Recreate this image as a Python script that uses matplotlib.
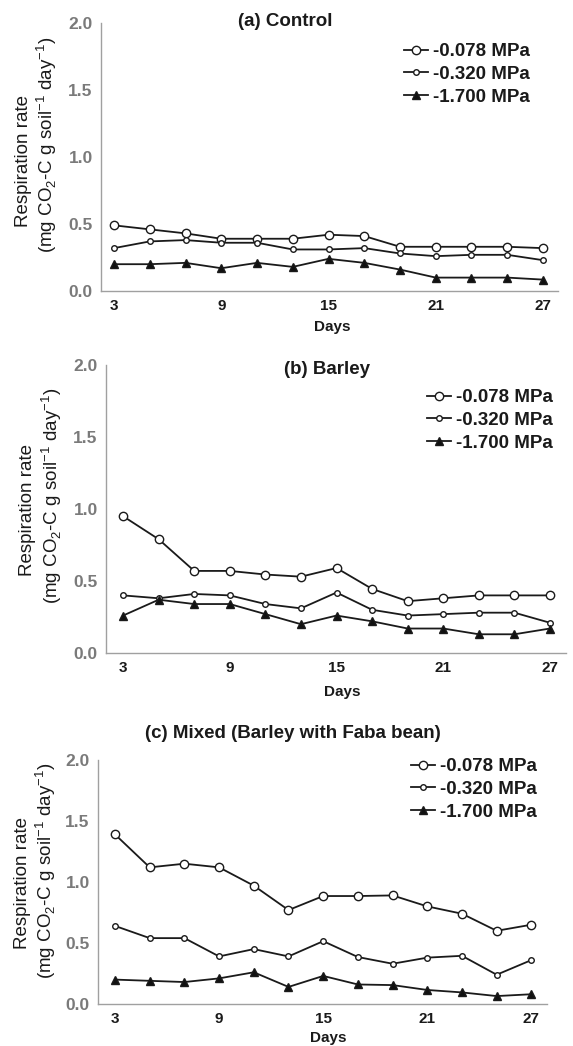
import numpy as np
import matplotlib
matplotlib.use("Agg")
import matplotlib.pyplot as plt

plt.rcParams['font.family'] = ['Liberation Sans', 'DejaVu Sans']
plt.rcParams['mathtext.fontset'] = 'custom'
plt.rcParams['mathtext.rm'] = 'Liberation Sans'

days = [3, 5, 7, 9, 11, 13, 15, 17, 19, 21, 23, 25, 27]
series_labels = ["-0.078 MPa", "-0.320 MPa", "-1.700 MPa"]
panel_titles = ["(a) Control", "(b) Barley", "(c) Mixed (Barley with Faba bean)"]
x_ticks = [3, 9, 15, 21, 27]
y_ticks = [0.0, 0.5, 1.0, 1.5, 2.0]

control_078 = [0.49, 0.46, 0.43, 0.39, 0.39, 0.39, 0.42, 0.41, 0.33, 0.33, 0.33, 0.33, 0.32]
control_320 = [0.32, 0.37, 0.38, 0.36, 0.36, 0.31, 0.31, 0.32, 0.28, 0.26, 0.27, 0.27, 0.23]
control_1700 = [0.20, 0.20, 0.21, 0.17, 0.21, 0.18, 0.24, 0.21, 0.16, 0.10, 0.10, 0.10, 0.085]

barley_078 = [0.95, 0.79, 0.57, 0.57, 0.545, 0.53, 0.59, 0.445, 0.36, 0.38, 0.40, 0.40, 0.40]
barley_320 = [0.40, 0.38, 0.41, 0.40, 0.34, 0.31, 0.42, 0.30, 0.26, 0.27, 0.28, 0.28, 0.21]
barley_1700 = [0.26, 0.37, 0.34, 0.34, 0.27, 0.20, 0.26, 0.22, 0.17, 0.17, 0.13, 0.13, 0.17]

mixed_078 = [1.39, 1.12, 1.15, 1.12, 0.97, 0.77, 0.885, 0.885, 0.89, 0.80, 0.74, 0.60, 0.65]
mixed_320 = [0.64, 0.54, 0.54, 0.39, 0.45, 0.39, 0.515, 0.385, 0.33, 0.38, 0.395, 0.24, 0.36]
mixed_1700 = [0.20, 0.19, 0.18, 0.21, 0.26, 0.14, 0.23, 0.16, 0.155, 0.115, 0.095, 0.065, 0.08]

W, H = 573, 1046
fig = plt.figure(figsize=(W / 100, H / 100), dpi=100)


def fx(x):
    return x / W


def fy(y):
    return 1 - y / H


# panel layout in pixels: left, right, top, bottom, xlim, title pos, legend pos, days pos, ylabel pos
panels = [
    dict(box=(101, 558, 23, 291), xlim=(2.27, 27.84), title=(285, 21), legend=(404, 43),
         days=(332, 327), yl1=(24, 161), yl2=(47, 145),
         data=(control_078, control_320, control_1700)),
    dict(box=(106, 566, 365, 653), xlim=(2.04, 27.9), title=(327, 369), legend=(427, 389),
         days=(342, 692), yl1=(28, 510), yl2=(52, 496),
         data=(barley_078, barley_320, barley_1700)),
    dict(box=(98, 547, 760, 1004), xlim=(2.02, 27.9), title=(293, 733), legend=(411, 758),
         days=(328, 1038), yl1=(23, 883), yl2=(46, 871),
         data=(mixed_078, mixed_320, mixed_1700)),
]

styles = [
    dict(marker='o', markersize=6, markerfacecolor='white'),
    dict(marker='o', markersize=4, markerfacecolor='white'),
    dict(marker='^', markersize=6, markerfacecolor='#111111'),
]

for p, title in zip(panels, panel_titles):
    l, r, t, b = p['box']
    ax = fig.add_axes([fx(l), fy(b), (r - l) / W, (b - t) / H])
    for vals, lab, st in zip(p['data'], series_labels, styles):
        ax.plot(days, vals, color='#1a1a1a', lw=1.3, markeredgecolor='#1a1a1a',
                markeredgewidth=1.0, label=lab, **st)
    ax.set_xlim(*p['xlim'])
    ax.set_ylim(0, 2.0)
    ax.set_xticks(x_ticks)
    ax.set_yticks(y_ticks)
    ax.set_yticklabels([f"{v:.1f}" for v in y_ticks])
    ax.tick_params(axis='both', length=0)
    ax.tick_params(axis='y', pad=6, labelsize=12.5, labelcolor='#7a7a7a')
    ax.tick_params(axis='x', pad=6, labelsize=11, labelcolor='#1a1a1a')
    for lbl in ax.get_xticklabels() + ax.get_yticklabels():
        lbl.set_fontweight('bold')
    for s in ['top', 'right']:
        ax.spines[s].set_visible(False)
    for s in ['left', 'bottom']:
        ax.spines[s].set_color('#a0a0a0')
        ax.spines[s].set_linewidth(1.0)

    ax.legend(loc='upper left', bbox_to_anchor=(fx(p['legend'][0]), fy(p['legend'][1])),
              bbox_transform=fig.transFigure, frameon=False, borderpad=0, borderaxespad=0,
              handlelength=1.3, handletextpad=0.25, labelspacing=0.3,
              prop=dict(weight='bold', size=13.5), labelcolor='#1a1a1a')

    fig.text(fx(p['title'][0]), fy(p['title'][1]), title, ha='center', va='center',
             fontsize=13.5, fontweight='bold', color='#1a1a1a')
    fig.text(fx(p['days'][0]), fy(p['days'][1]), "Days", ha='center', va='center',
             fontsize=11, fontweight='bold', color='#1a1a1a')
    fig.text(fx(p['yl1'][0]), fy(p['yl1'][1]), "Respiration rate", ha='center', va='center',
             rotation=90, fontsize=13.5, color='#1a1a1a')
    fig.text(fx(p['yl2'][0]), fy(p['yl2'][1]),
             r"(mg CO$_2$-C g soil$^{-1}$ day$^{-1}$)", ha='center', va='center',
             rotation=90, fontsize=13.5, color='#1a1a1a')

plt.savefig("out.png", dpi=100)
